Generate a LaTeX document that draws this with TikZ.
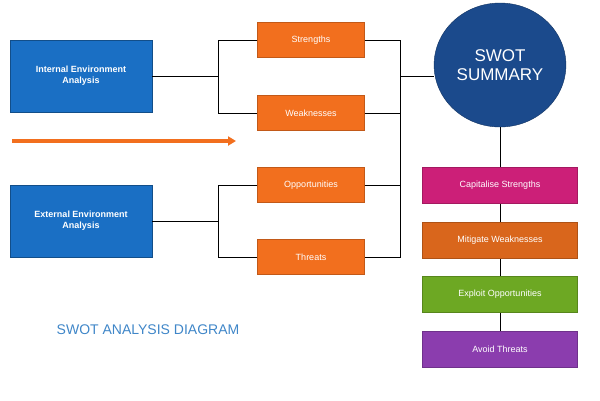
\documentclass[tikz,border=0pt]{standalone}
\usepackage{fontspec}
\setmainfont{Liberation Sans}
\usetikzlibrary{arrows.meta,shapes.geometric,positioning}
\definecolor{envblue}{HTML}{1A6FC4}
\definecolor{swotorange}{HTML}{F26F1E}
\definecolor{sumblue}{HTML}{1B4A8C}
\definecolor{capcol}{HTML}{CC1F78}
\definecolor{mitcol}{HTML}{D9661C}
\definecolor{expcol}{HTML}{6DA823}
\definecolor{avcol}{HTML}{8B3DAE}
\definecolor{titleblue}{HTML}{3F86C8}
\begin{document}
\begin{tikzpicture}[x=1pt,y=-1pt,
  font=\fontsize{9}{11}\selectfont,
  env/.style={draw=envblue!70!black,fill=envblue,text=white,font=\fontsize{9}{11}\selectfont\bfseries,
    minimum width=142pt,minimum height=72pt,align=center},
  factor/.style={draw=swotorange!80!black,fill=swotorange,text=white,minimum width=107pt,minimum height=35pt},
  action/.style={draw=#1!80!black,fill=#1,text=white,minimum width=155pt,minimum height=36pt},
  link/.style={thick,black}]

  \useasboundingbox (0,0) rectangle (600,400);

  % environment boxes and the arrow between them
  \node[env] (int) at (81,76) {Internal Environment\\Analysis};
  \node[env] (ext) at (81,221) {External Environment\\Analysis};
  \coordinate (a1) at (12,141);
  \coordinate (a2) at (236,141);
  \draw[swotorange,line width=3.5pt,-{Triangle[length=8pt,width=9pt]}] (a1) -- (a2);

  % the four factors
  \node[factor] (str) at (311,40) {Strengths};
  \node[factor] (weak) at (311,113) {Weaknesses};
  \node[factor] (opp) at (311,185) {Opportunities};
  \node[factor] (thr) at (311,257) {Threats};

  % summary and actions
  \node[ellipse,draw=sumblue!70!black,fill=sumblue,text=white,minimum width=110pt,minimum height=124pt,
    align=center,font=\fontsize{17}{19}\selectfont] (sum) at (500,65) {SWOT\\SUMMARY};
  \node[action=capcol] (cap) at (500,185) {Capitalise Strengths};
  \node[action=mitcol] (mit) at (500,240) {Mitigate Weaknesses};
  \node[action=expcol] (exp) at (500,294) {Exploit Opportunities};
  \node[action=avcol] (avo) at (500,349) {Avoid Threats};

  \node[text=titleblue,font=\fontsize{14}{16}\selectfont] (title) at (148,330) {SWOT ANALYSIS DIAGRAM};

  % connectors
  \draw[link] (int.east) -- ++(66,0) coordinate (ib);
  \draw[link] (str.west) -| (ib) |- (weak.west);
  \draw[link] (ext.east) -- ++(66,0) coordinate (eb);
  \draw[link] (opp.west) -| (eb) |- (thr.west);
  \draw[link] (str.east) -| (400,257) coordinate (rb) -- (thr.east);
  \draw[link] (weak.east) -- (weak.east -| rb);
  \draw[link] (opp.east) -- (opp.east -| rb);
  \draw[link] (sum.west |- 0,76) coordinate (sl) -- (sl -| rb);
  \draw[link] (sum.south) -- (avo.north);
  \draw[link] (cap.north) -- (sum.south);

  \node[action=capcol] at (cap) {Capitalise Strengths};
  \node[action=mitcol] at (mit) {Mitigate Weaknesses};
  \node[action=expcol] at (exp) {Exploit Opportunities};
\end{tikzpicture}
\end{document}
